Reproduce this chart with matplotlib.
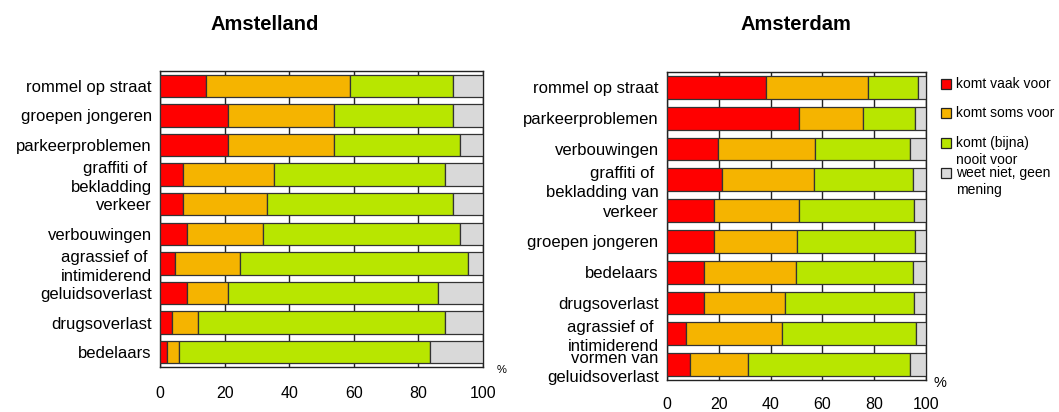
import matplotlib
matplotlib.use("Agg")
import matplotlib.pyplot as plt
from matplotlib.patches import Rectangle

plt.rcParams['font.family'] = ['Liberation Sans', 'DejaVu Sans']

series_names = ["komt vaak voor", "komt soms voor", "komt (bijna)\nnooit voor", "weet niet, geen\nmening"]
colors = ["#ff0000", "#f5b400", "#b8e600", "#d9d9d9"]

left_title = "Amstelland"
left_cats = ["rommel op straat", "groepen jongeren", "parkeerproblemen", "graffiti of \nbekladding",
             "verkeer", "verbouwingen", "agrassief of \nintimiderend", "geluidsoverlast",
             "drugsoverlast", "bedelaars"]
left_vaak = [14.2, 21.2, 21.2, 7.0, 7.0, 8.3, 4.6, 8.3, 3.6, 2.3]
left_soms = [44.6, 32.8, 32.8, 28.3, 26.0, 23.5, 20.2, 12.9, 8.2, 3.7]
left_nooit = [31.8, 36.6, 39.0, 52.9, 57.6, 61.2, 70.6, 64.8, 76.4, 77.5]
left_weet = [9.4, 9.4, 7.0, 11.8, 9.4, 7.0, 4.6, 14.0, 11.8, 16.5]

right_title = "Amsterdam"
right_cats = ["rommel op straat", "parkeerproblemen", "verbouwingen", "graffiti of \nbekladding van",
              "verkeer", "groepen jongeren", "bedelaars", "drugsoverlast",
              "agrassief of \nintimiderend", "vormen van\ngeluidsoverlast"]
right_vaak = [38.4, 50.8, 19.8, 21.4, 18.0, 18.3, 14.4, 14.4, 7.3, 9.0]
right_soms = [39.4, 24.8, 37.4, 35.2, 32.8, 31.8, 35.5, 31.3, 37.3, 22.4]
right_nooit = [19.2, 20.3, 36.7, 38.2, 44.4, 45.5, 44.9, 49.7, 51.4, 62.3]
right_weet = [3.0, 4.1, 6.1, 5.2, 4.8, 4.4, 5.2, 4.6, 4.0, 6.3]

xticks = [0, 20, 40, 60, 80, 100]

fig = plt.figure(figsize=(10.59, 4.12), dpi=100)


def draw(ax, cats, vals, bar_h, xpad):
    y = list(range(len(cats)))
    left = [0.0] * len(cats)
    for v, c in zip(vals, colors):
        ax.barh(y, v, left=left, height=bar_h, color=c, edgecolor="#333333",
                linewidth=0.9, zorder=3)
        left = [a + b for a, b in zip(left, v)]
    ax.set_xlim(0, 100)
    ax.set_ylim(len(cats) - 0.5, -0.5)
    ax.set_yticks(y)
    ax.set_yticklabels(cats, fontsize=12, ha="right", linespacing=1.3)
    ax.set_xticks(xticks)
    ax.set_xticklabels([str(t) for t in xticks], fontsize=11.5)
    ax.tick_params(axis="both", length=0)
    ax.tick_params(axis="x", pad=xpad)
    ax.tick_params(axis="y", pad=6)
    ax.xaxis.grid(True, color="#222222", linewidth=1.0, zorder=0)
    ax.set_axisbelow(True)
    for s in ax.spines.values():
        s.set_color("#222222")
        s.set_linewidth(1.0)


ax1 = fig.add_axes([0.1511, 0.1092, 0.305, 0.7185])
draw(ax1, left_cats, [left_vaak, left_soms, left_nooit, left_weet], 0.76, 14)
ax2 = fig.add_axes([0.6298, 0.0777, 0.2446, 0.7476])
draw(ax2, right_cats, [right_vaak, right_soms, right_nooit, right_weet], 0.74, 12)

fig.text(265 / 1059, 1 - 25 / 412, left_title, fontsize=14.5, fontweight="bold",
         ha="center", va="center")
fig.text(796 / 1059, 1 - 25 / 412, right_title, fontsize=14.5, fontweight="bold",
         ha="center", va="center")
fig.text(502 / 1059, 1 - 370 / 412, "%", fontsize=8, ha="center", va="center")
fig.text(940 / 1059, 1 - 383 / 412, "%", fontsize=10.5, ha="center", va="center")

# legend
leg_y = [84, 113, 143, 173]
for name, c, yy in zip(series_names, colors, leg_y):
    fig.patches.append(Rectangle((941 / 1059, 1 - (yy + 5) / 412), 10 / 1059, 10 / 412,
                                 transform=fig.transFigure, facecolor=c,
                                 edgecolor="#222222", linewidth=0.9))
    fig.text(956 / 1059, 1 - (yy - 7) / 412, name, fontsize=10, ha="left", va="top",
             linespacing=1.25)

fig.savefig("out.png", dpi=100)
